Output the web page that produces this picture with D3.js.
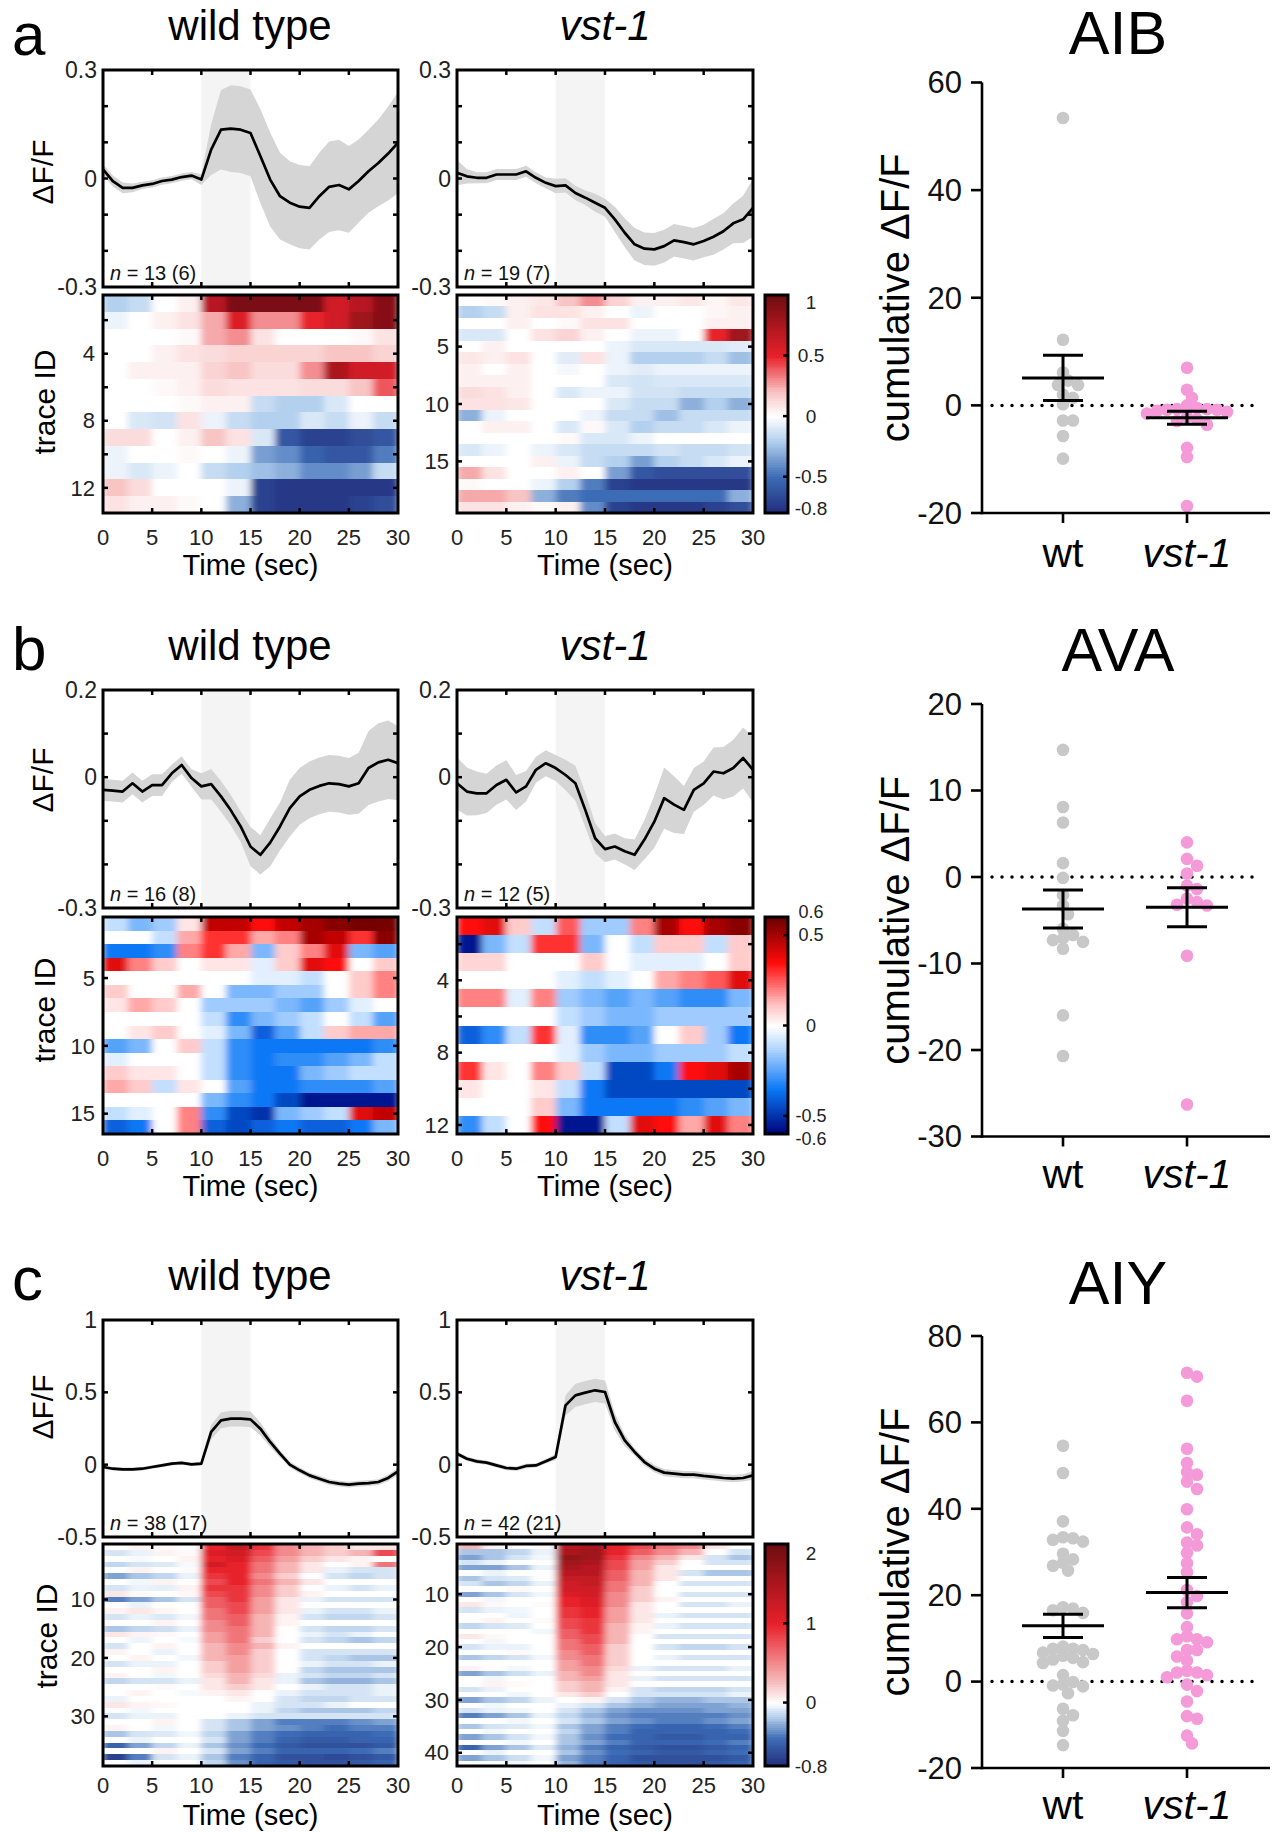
<!DOCTYPE html>
<html>
<head>
<meta charset="utf-8">
<script src="https://cdn.jsdelivr.net/npm/d3@7"></script>
<style>
body { margin: 0; background: #fff; }
svg { display: block; }
text { font-family: "Liberation Sans", Arial, sans-serif; }
</style>
</head>
<body>
<div id="fig"></div>
<script>
// ---- time axes ----
var secs = d3.range(0, 31);
var heatBins = [0, 2.5, 5, 7.5, 10, 12.5, 15, 17.5, 20, 22.5, 25, 27.5];
var timeTicks = [0, 5, 10, 15, 20, 25, 30];

// ---- mean traces (dF/F) and SEM, 1 s steps ----
var aWtMean = [0.025,-0.007,-0.026,-0.026,-0.019,-0.015,-0.007,-0.003,0.004,0.008,-0.003,0.080,0.135,0.138,0.135,0.126,0.062,-0.003,-0.049,-0.067,-0.078,-0.081,-0.049,-0.023,-0.018,-0.030,-0.007,0.020,0.043,0.069,0.099];
var aWtSem  = [0.015,0.015,0.015,0.012,0.01,0.01,0.01,0.01,0.01,0.01,0.015,0.07,0.11,0.12,0.12,0.12,0.13,0.13,0.12,0.115,0.115,0.115,0.12,0.125,0.125,0.12,0.115,0.115,0.12,0.13,0.14];
var aVstMean = [0.016,0.006,0.002,0.002,0.011,0.011,0.011,0.020,0.002,-0.012,-0.021,-0.019,-0.040,-0.053,-0.067,-0.081,-0.113,-0.150,-0.182,-0.194,-0.196,-0.187,-0.171,-0.176,-0.182,-0.173,-0.161,-0.146,-0.124,-0.113,-0.081];
var aVstSem  = [0.035,0.02,0.015,0.015,0.015,0.015,0.015,0.015,0.015,0.015,0.02,0.02,0.02,0.02,0.025,0.025,0.035,0.04,0.045,0.045,0.045,0.045,0.045,0.045,0.045,0.045,0.05,0.05,0.055,0.065,0.08];
var bWtMean = [-0.029,-0.031,-0.033,-0.014,-0.033,-0.018,-0.018,0.009,0.028,-0.002,-0.021,-0.016,-0.044,-0.076,-0.113,-0.159,-0.178,-0.150,-0.113,-0.071,-0.044,-0.029,-0.020,-0.014,-0.016,-0.021,-0.014,0.021,0.034,0.040,0.032];
var bWtSem  = [0.025,0.025,0.025,0.025,0.025,0.025,0.025,0.02,0.02,0.02,0.03,0.035,0.035,0.035,0.035,0.045,0.045,0.055,0.055,0.065,0.065,0.065,0.065,0.065,0.065,0.065,0.07,0.085,0.09,0.09,0.085];
var bVstMean = [-0.014,-0.033,-0.037,-0.037,-0.018,-0.006,-0.035,-0.021,0.017,0.032,0.021,0.005,-0.014,-0.075,-0.140,-0.165,-0.159,-0.170,-0.178,-0.143,-0.102,-0.048,-0.063,-0.075,-0.029,-0.014,0.013,0.009,0.021,0.044,0.017];
var bVstSem  = [0.06,0.055,0.05,0.045,0.045,0.045,0.04,0.035,0.03,0.03,0.03,0.035,0.04,0.04,0.035,0.03,0.03,0.03,0.035,0.045,0.06,0.07,0.065,0.055,0.05,0.05,0.055,0.06,0.065,0.07,0.075];
var cWtMean = [-0.016,-0.028,-0.032,-0.032,-0.028,-0.016,-0.005,0.007,0.012,0.002,0.007,0.226,0.306,0.318,0.318,0.313,0.249,0.157,0.076,0.000,-0.039,-0.074,-0.097,-0.120,-0.131,-0.138,-0.131,-0.127,-0.120,-0.092,-0.046];
var cWtSem  = [0.012,0.012,0.012,0.012,0.012,0.012,0.012,0.012,0.012,0.012,0.015,0.05,0.055,0.055,0.055,0.055,0.045,0.035,0.025,0.02,0.02,0.02,0.02,0.02,0.02,0.02,0.02,0.02,0.02,0.022,0.025];
var cVstMean = [0.076,0.041,0.023,0.014,-0.005,-0.023,-0.028,-0.009,-0.005,0.023,0.053,0.410,0.479,0.498,0.514,0.502,0.295,0.168,0.088,0.018,-0.028,-0.055,-0.062,-0.069,-0.069,-0.078,-0.085,-0.092,-0.097,-0.092,-0.074];
var cVstSem  = [0.015,0.015,0.015,0.015,0.015,0.015,0.015,0.015,0.015,0.015,0.02,0.07,0.08,0.08,0.08,0.08,0.06,0.04,0.025,0.025,0.025,0.025,0.025,0.025,0.025,0.025,0.025,0.025,0.025,0.025,0.03];

// ---- single traces (heatmaps), 2.5 s bins ----
var heatAWt = [
 [-0.2,-0.15,0,0.05,0.7,0.95,0.95,0.95,0.95,0.6,0.7,0.9],
 [-0.05,0,0.05,0.1,0.25,0.55,0.3,0.3,0.5,0.6,0.8,0.9],
 [0,0,0,0.02,0.25,0.3,0.1,0,0,0,0.02,0.1],
 [0,0,0.05,0.1,0.12,0.15,0.15,0.15,0.15,0.2,0.2,0.15],
 [0,0.05,0.05,0.05,0.15,0.2,0.12,0.12,0.3,0.75,0.6,0.6],
 [0,0,0.02,0.05,0.12,0.1,0.1,0.1,0.12,0.12,0.2,0.4],
 [0,0,0,0.02,0.05,0.05,-0.15,-0.2,-0.2,-0.1,0,0],
 [0,-0.1,-0.12,0.1,-0.05,-0.15,-0.2,-0.2,-0.1,-0.15,-0.05,-0.15],
 [0.12,0.12,0,0.05,0.2,0.1,-0.1,-0.6,-0.7,-0.7,-0.65,-0.6],
 [-0.05,0,0,0.02,0,-0.05,-0.35,-0.4,-0.55,-0.6,-0.6,-0.45],
 [-0.05,-0.1,-0.05,0,-0.15,-0.2,-0.25,-0.3,-0.4,-0.4,-0.35,-0.15],
 [0.2,0.12,0,0,0,-0.05,-0.7,-0.75,-0.75,-0.75,-0.75,-0.75],
 [0.1,0.05,0.05,0.02,0,-0.3,-0.7,-0.75,-0.75,-0.75,-0.7,-0.65]
];
var heatAVst = [
 [0,0.02,0.05,0.08,0.2,0.3,0.15,0.05,0.05,0.08,0.03,0.08],
 [-0.2,-0.15,0.05,0.1,0.1,0.05,0,-0.05,0,0,0.03,0.05],
 [0,0,0.05,0,0.02,0.1,0.1,0,0,0,0.05,0.05],
 [-0.1,-0.1,0,0.1,0.15,0.05,0,-0.05,-0.05,0,0.5,0.8],
 [0,0.05,0,0,0,0,-0.05,-0.1,-0.1,-0.1,-0.1,-0.08],
 [0.08,0.05,0.1,0,-0.08,0.1,-0.05,-0.2,-0.2,-0.2,-0.15,-0.25],
 [0.05,0,0.05,0,-0.03,0,-0.05,-0.08,-0.05,-0.05,-0.05,-0.05],
 [0.05,0.05,0.05,0,0,0,-0.1,-0.12,-0.1,-0.1,-0.1,-0.1],
 [0.12,0.1,0.05,0,-0.1,-0.05,-0.05,-0.12,-0.12,-0.15,-0.15,-0.15],
 [0.1,0.1,0.08,0,0,0,-0.1,-0.15,-0.15,-0.3,-0.2,-0.3],
 [-0.3,-0.05,0,0,0,-0.05,-0.15,-0.15,-0.25,-0.15,-0.15,-0.15],
 [0,0.05,0.05,0,-0.1,0.02,-0.1,-0.2,-0.15,-0.15,-0.1,-0.05],
 [0,0,0,0,0.02,-0.1,-0.1,-0.05,0,0,0,0],
 [-0.1,-0.05,0,-0.05,-0.1,-0.15,-0.15,-0.15,-0.12,-0.15,-0.15,-0.12],
 [0,0,0,0.05,-0.05,-0.15,-0.2,-0.35,-0.2,-0.15,-0.1,-0.05],
 [0.25,0.1,0,0,0.05,0,-0.35,-0.6,-0.65,-0.65,-0.65,-0.65],
 [0.02,0,0,-0.05,-0.2,-0.45,-0.7,-0.75,-0.75,-0.75,-0.75,-0.75],
 [0.25,0.25,0.2,-0.3,-0.45,-0.5,-0.5,-0.5,-0.5,-0.5,-0.5,-0.3],
 [0.1,0.1,0.05,0.02,0.05,-0.4,-0.7,-0.75,-0.75,-0.75,-0.7,-0.65]
];
var heatBWt = [
 [-0.1,-0.2,-0.15,0.05,0.45,0.45,0.35,0.45,0.5,0.55,0.58,0.58],
 [0,0,-0.1,0.15,0.3,0.3,0.15,0.2,0.5,0.45,0.3,0.55],
 [-0.35,-0.35,-0.3,0.2,0.3,0.15,-0.2,0.1,0.2,0.4,-0.2,-0.25],
 [0.4,0.2,0.1,0,0.05,0.05,-0.05,0.1,0.4,0.35,0,0.1],
 [0,0,0,0,0,0,-0.05,-0.05,-0.1,0,0.1,0.2],
 [0.1,0,0,0.15,0,-0.2,-0.2,-0.15,-0.15,0,0.1,0.2],
 [0.05,0.15,0.1,0,-0.15,-0.15,-0.15,-0.2,-0.25,-0.15,-0.05,0],
 [0,0,0,0,-0.1,-0.3,-0.2,-0.15,-0.1,0,-0.1,-0.25],
 [0,0.05,0.1,0,-0.05,-0.2,-0.4,-0.25,-0.1,0.1,0.15,0.15],
 [-0.25,-0.2,0,0.1,-0.1,-0.3,-0.35,-0.35,-0.35,-0.35,-0.35,-0.3],
 [-0.05,0,0,0,-0.1,-0.3,-0.35,-0.3,-0.3,-0.25,-0.2,-0.1],
 [0.1,0.05,0.05,0,-0.1,-0.3,-0.35,-0.35,-0.2,-0.15,-0.1,-0.1],
 [0.15,0.1,-0.1,0.05,0,-0.25,-0.35,-0.35,-0.3,-0.3,-0.3,-0.25],
 [0,0,0,0,-0.2,-0.3,-0.35,-0.45,-0.55,-0.55,-0.55,-0.55],
 [-0.1,-0.05,0,0.2,-0.3,-0.45,-0.5,-0.2,-0.15,-0.1,0.4,0.45],
 [-0.4,-0.35,0,0.2,-0.4,-0.45,-0.4,-0.35,-0.4,-0.4,-0.35,-0.2]
];
var heatBVst = [
 [0.35,0.4,0.1,-0.1,0.25,-0.15,-0.15,0.2,0.5,0.35,0.5,0.55],
 [-0.55,-0.2,-0.1,0.3,0.3,-0.2,0,-0.1,0.1,0.1,-0.1,0.1],
 [0.08,0.08,0,0,0,0.1,0,-0.05,-0.05,-0.05,0,0.1],
 [0,0,0,0,-0.05,-0.1,-0.05,0,0.15,0.2,0.25,0.4],
 [0.2,0.2,-0.05,0.2,-0.15,-0.2,-0.25,-0.2,-0.25,-0.3,-0.3,-0.2],
 [0,0,0,0,-0.1,-0.15,-0.2,-0.2,-0.15,-0.15,-0.15,-0.15],
 [-0.4,-0.3,-0.1,0.3,-0.05,-0.3,-0.3,-0.25,0,0.1,-0.15,-0.35],
 [0,0,0,0,-0.05,-0.15,-0.2,-0.2,-0.15,-0.15,-0.15,-0.1],
 [0.3,0.05,0,0.2,0.1,-0.1,-0.45,-0.45,-0.35,0.35,0.4,0.5],
 [0.05,0,0,0.05,-0.1,-0.35,-0.45,-0.45,-0.45,-0.45,-0.45,-0.45],
 [0,0,0,0.1,-0.2,-0.35,-0.35,-0.35,-0.35,-0.3,-0.25,-0.2],
 [-0.3,-0.1,0,0.35,-0.55,-0.55,-0.1,0.4,0.35,0.15,0.4,0.2]
];
var heatCWt = [
 [0,0.05,0.02,0,1.0,1.3,0.9,0.5,0.3,0.2,0.1,0.1],
 [-0.1,-0.05,0.05,0.02,1.1,1.2,0.8,0.5,0.3,0.2,0.3,0.8],
 [0,-0.02,0,0.05,1.0,1.1,0.7,0.4,0.2,0.1,0.05,0],
 [-0.15,-0.1,-0.08,-0.02,1.2,1.0,0.6,0.3,0.1,0,0.05,0.6],
 [0,0.05,0,0.02,1.0,1.0,0.6,0.3,0.1,-0.05,-0.1,-0.1],
 [-0.3,-0.2,-0.15,-0.05,0.9,1.0,0.5,0.2,0,-0.1,-0.15,-0.1],
 [0,-0.03,0.05,0,0.8,1.0,0.6,0.3,0.1,0,0,0],
 [-0.1,-0.05,-0.06,0.05,0.9,0.9,0.5,0.2,0,-0.05,-0.1,-0.05],
 [0.1,0.02,0,0.03,0.8,0.9,0.5,0.2,0.05,0,0,0],
 [-0.4,-0.3,-0.2,-0.1,0.7,0.9,0.4,0.1,-0.05,-0.1,-0.1,-0.1],
 [0,-0.05,0,0,0.7,0.8,0.4,0.1,0,0,0,0],
 [0.05,0.1,0.04,0,0.6,0.8,0.4,0.1,-0.05,-0.1,-0.1,-0.05],
 [-0.1,-0.05,-0.08,-0.03,0.6,0.7,0.3,0.05,-0.1,-0.15,-0.15,-0.1],
 [0,0,0.05,0,0.5,0.7,0.3,0.05,0,0,0,0],
 [-0.2,-0.15,-0.12,-0.05,0.5,0.6,0.3,0,-0.1,-0.15,-0.15,-0.1],
 [0.1,0.05,0.03,0,0.4,0.6,0.3,0,-0.05,-0.1,-0.05,0],
 [0,-0.04,0,-0.02,0.4,0.6,0.2,0,-0.1,-0.15,-0.2,-0.15],
 [-0.1,0,0.05,0,0.3,0.5,0.3,0.05,0,0,0,0],
 [0.05,0,-0.05,0,0.3,0.5,0.2,0,-0.1,-0.1,-0.1,-0.1],
 [0,0.05,0,-0.03,0.3,0.4,0.2,0,-0.1,-0.15,-0.2,-0.2],
 [-0.1,-0.05,-0.05,0,0.2,0.4,0.2,0,-0.05,-0.1,-0.1,-0.05],
 [0,0,0.05,0,0.2,0.4,0.2,0,-0.15,-0.2,-0.2,-0.2],
 [0.05,0,-0.03,0,0.15,0.3,0.15,-0.05,-0.1,-0.15,-0.15,-0.1],
 [-0.15,-0.1,-0.1,-0.05,0.1,0.3,0.1,-0.05,-0.2,-0.25,-0.25,-0.2],
 [0,0,0.02,0,0.1,0.2,0.1,0,-0.05,-0.1,-0.1,-0.05],
 [0,0.05,0,-0.02,0.05,0.1,0,-0.05,-0.1,-0.1,-0.1,-0.05],
 [-0.05,0,0,0,0,0.05,0,-0.1,-0.15,-0.15,-0.1,-0.1],
 [0.1,0.05,0.03,0,0,0,-0.05,-0.1,-0.1,-0.05,0,0],
 [0,-0.03,0,0,0,0,-0.05,-0.15,-0.2,-0.2,-0.2,-0.15],
 [-0.1,-0.05,-0.05,0,0,-0.05,-0.1,-0.1,-0.1,-0.1,-0.1,-0.1],
 [0,0,0.05,0,-0.1,-0.2,-0.3,-0.4,-0.4,-0.4,-0.35,-0.3],
 [0.05,0,-0.03,0,-0.1,-0.2,-0.3,-0.35,-0.4,-0.45,-0.4,-0.4],
 [-0.2,-0.1,-0.08,-0.03,-0.15,-0.3,-0.4,-0.45,-0.5,-0.5,-0.5,-0.45],
 [0,-0.05,0,0,-0.1,-0.3,-0.4,-0.5,-0.55,-0.55,-0.5,-0.5],
 [-0.5,-0.3,-0.15,-0.05,-0.2,-0.35,-0.45,-0.55,-0.6,-0.6,-0.6,-0.55],
 [0,0,0.05,0,-0.1,-0.3,-0.4,-0.5,-0.5,-0.5,-0.45,-0.4],
 [-0.7,-0.4,-0.1,-0.05,-0.2,-0.4,-0.5,-0.6,-0.6,-0.65,-0.6,-0.55],
 [0,-0.05,0,0,-0.15,-0.35,-0.5,-0.55,-0.6,-0.6,-0.55,-0.5]
];
var heatCVst = [
 [0.3,0.05,0,0.02,1.4,1.5,1.0,0.8,0.6,0.5,0.1,0],
 [-0.2,-0.2,-0.15,-0.05,1.5,1.6,1.0,0.7,0.5,0.3,0,-0.1],
 [-0.3,-0.2,-0.1,-0.03,1.7,1.6,0.9,0.5,0.3,0.1,-0.1,-0.2],
 [-0.1,-0.05,0,0,1.6,1.5,0.8,0.4,0.2,0,-0.1,-0.1],
 [-0.3,-0.3,-0.2,-0.05,1.5,1.4,0.8,0.4,0.1,0,0,0],
 [0,-0.05,0,0,1.4,1.4,0.7,0.3,0.1,-0.1,-0.2,-0.2],
 [-0.2,-0.1,-0.08,0,1.3,1.3,0.7,0.3,0.1,0,0,0],
 [-0.1,-0.2,-0.15,-0.05,1.2,1.3,0.6,0.3,0,-0.1,-0.1,-0.1],
 [0,0,0.03,0,1.2,1.2,0.6,0.2,0,0,0,0],
 [-0.3,-0.2,-0.1,-0.03,1.1,1.2,0.5,0.2,0,-0.1,-0.1,-0.1],
 [0,-0.03,0,0,1.0,1.1,0.5,0.2,0.05,0,0,0],
 [0.1,0.03,0,0.02,1.0,1.1,0.5,0.1,0,-0.1,-0.1,-0.05],
 [-0.1,-0.05,-0.03,0,0.9,1.0,0.4,0.1,0,0,0,0],
 [0,0,-0.04,0,0.9,1.0,0.4,0.1,-0.05,-0.1,-0.1,-0.1],
 [0,0.05,0,0.02,0.8,0.9,0.4,0.1,0,0,0,0],
 [-0.15,-0.1,-0.08,0,0.8,0.9,0.3,0.05,-0.05,-0.1,-0.1,-0.1],
 [0,0,0,-0.03,0.7,0.9,0.3,0.05,0,0,0,0],
 [0.1,0.03,0,0,0.7,0.8,0.3,0,-0.1,-0.1,-0.1,-0.1],
 [0,-0.03,0,0,0.6,0.8,0.3,0,0,0,0,0],
 [-0.1,-0.05,-0.05,0,0.6,0.7,0.2,0,-0.1,-0.15,-0.15,-0.1],
 [0,0,0.03,0,0.5,0.7,0.2,0,0,0,0,0],
 [-0.2,-0.15,-0.1,-0.03,0.5,0.6,0.2,0,-0.05,-0.1,-0.1,-0.1],
 [0,0,0,0,0.4,0.6,0.2,0,0,0,0,0],
 [0.05,0,-0.03,0,0.4,0.5,0.15,-0.05,-0.1,-0.1,-0.1,-0.05],
 [-0.3,-0.2,-0.12,-0.05,0.3,0.5,0.1,0,0,0,0,0],
 [0,-0.03,0,0,0.3,0.4,0.1,-0.05,-0.1,-0.1,-0.1,-0.1],
 [0,0.05,0.02,0,0.2,0.3,0.1,0,0,0,0,0],
 [-0.1,-0.05,0,0,0.2,0.3,0.05,-0.1,-0.15,-0.15,-0.15,-0.1],
 [0,0,-0.03,0,0.1,0.2,0,-0.1,-0.1,-0.1,-0.1,-0.05],
 [-0.3,-0.2,-0.15,-0.05,0,0.05,-0.1,-0.2,-0.25,-0.25,-0.2,-0.2],
 [0,-0.03,0,0,-0.05,-0.1,-0.2,-0.25,-0.3,-0.3,-0.3,-0.25],
 [-0.1,-0.05,-0.03,0,-0.1,-0.2,-0.3,-0.35,-0.35,-0.35,-0.3,-0.3],
 [-0.4,-0.3,-0.2,-0.05,-0.15,-0.25,-0.35,-0.4,-0.4,-0.4,-0.4,-0.35],
 [0,0,-0.03,0,-0.1,-0.2,-0.3,-0.35,-0.4,-0.4,-0.35,-0.3],
 [-0.2,-0.1,-0.08,-0.03,-0.2,-0.3,-0.4,-0.45,-0.5,-0.5,-0.45,-0.4],
 [0,-0.03,0,0,-0.15,-0.3,-0.4,-0.5,-0.5,-0.5,-0.5,-0.45],
 [-0.3,-0.2,-0.1,-0.03,-0.2,-0.35,-0.45,-0.5,-0.55,-0.55,-0.5,-0.5],
 [0,0,-0.03,0,-0.2,-0.3,-0.4,-0.5,-0.5,-0.5,-0.45,-0.4],
 [-0.5,-0.3,-0.2,-0.08,-0.25,-0.4,-0.5,-0.55,-0.6,-0.6,-0.55,-0.5],
 [0,-0.05,0,0,-0.2,-0.35,-0.45,-0.5,-0.55,-0.55,-0.5,-0.45],
 [-0.3,-0.2,-0.12,-0.03,-0.3,-0.4,-0.5,-0.6,-0.6,-0.6,-0.6,-0.55],
 [0,0,-0.03,0,-0.25,-0.4,-0.5,-0.55,-0.6,-0.6,-0.55,-0.5]
];

// ---- cumulative dF/F per animal ----
var groups = ["wt", "vst-1"];
var aibWt  = [53.4,12.2,4.6,3.8,6.1,3.8,1.4,2.0,0.2,-2.8,-2.8,-5.7,-9.9];
var aibVst = [7.0,2.9,1.4,0,-0.7,-0.7,-0.5,-0.8,-2.9,-3.6,-2.1,-7.9,-9.6,-18.7,-0.8,-1.0,-1.5,-1.2,-2.6];
var aibMean = [5.1, -2.3], aibSem = [4.2, 1.2];
var avaWt  = [14.7,8.1,6.3,1.6,-0.1,-2.1,-3.3,-4.3,-6.0,-7.1,-6.7,-7.3,-7.5,-8.3,-16.0,-20.7];
var avaVst = [4.0,2.1,1.3,0.4,-1.0,-1.4,-2.5,-2.9,-3.2,-3.3,-9.1,-26.3];
var avaMean = [-3.7, -3.5], avaSem = [2.2, 2.25];
var aiyWt  = [54.6,48.3,37.1,32.8,33.2,32.4,33.4,29.6,28.3,27.5,26.8,25.7,16.9,16.5,17.2,15.9,6.7,6.0,6.4,7.6,7.6,8.1,7.3,5.1,4.3,4.5,5.5,1.5,-0.1,-0.9,-0.7,-1.1,-2.7,-6.3,-7.8,-9.1,-11.4,-14.7];
var aiyVst = [70.6,71.5,65.0,53.9,50.6,48.5,47.9,46.3,44.6,39.9,35.7,34.1,32.2,31.5,29.8,27.4,25.3,21.2,18.4,19.8,15.8,12.6,10.5,9.8,9.1,9.8,7.3,7.3,5.8,4.9,2.5,2.1,1.5,2.1,1.0,-0.7,-2.2,-4.6,-8.0,-8.6,-12.5,-14.3];
var aiyMean = [12.9, 20.6], aiySem = [2.7, 3.5];

// ---- colour maps ----
var cmapA = d3.scaleLinear()
  .domain([-0.8, -0.5, -0.2, 0, 0.2, 0.5, 1])
  .range(["#222d7c", "#3d6cb6", "#b3d0ee", "#ffffff", "#f8c4c4", "#e8202a", "#6e0d10"])
  .clamp(true);
var cmapB = d3.scaleLinear()
  .domain([-0.6, -0.35, -0.12, 0, 0.12, 0.35, 0.6])
  .range(["#000078", "#0a78f5", "#b6d8ff", "#ffffff", "#ffc0c0", "#ff0a0a", "#6a0000"])
  .clamp(true);
var cmapC = d3.scaleLinear()
  .domain([-0.8, -0.45, -0.15, 0, 0.3, 1, 2])
  .range(["#222d7c", "#3d6cb6", "#c0d7ef", "#ffffff", "#f6b4b4", "#e8202a", "#6e0d10"])
  .clamp(true);

var svg = d3.select("#fig").append("svg")
  .attr("width", 1278).attr("height", 1832);
svg.append("rect").attr("width", 1278).attr("height", 1832).attr("fill", "#fff");

// horizontal smoothing of heatmap cells (rows stay sharp)
var defs = svg.append("defs");
defs.append("filter").attr("id", "hsmooth")
  .attr("x", 0).attr("y", 0).attr("width", 1).attr("height", 1)
  .append("feGaussianBlur").attr("stdDeviation", "3.5 0").attr("edgeMode", "duplicate");

function label(x, y, s, size, opt) {
  opt = opt || {};
  var t = svg.append("text")
    .attr("x", x).attr("y", y)
    .attr("font-size", size)
    .attr("text-anchor", opt.anchor || "middle")
    .attr("fill", opt.color || "#000")
    .text(s);
  if (opt.dy) t.attr("dy", opt.dy);
  if (opt.italic) t.attr("font-style", "italic");
  if (opt.rotate) t.attr("transform", "rotate(-90," + x + "," + y + ")");
  return t;
}

// box frame with inward ticks
function frame(x, y, xTicks, yTicks) {
  var g = svg.append("g");
  var x0 = x.range()[0], x1 = x.range()[1];
  var y0 = y.range()[1], y1 = y.range()[0];
  var tl = 5;
  xTicks.forEach(function(t) {
    g.append("line").attr("x1", x(t)).attr("x2", x(t)).attr("y1", y1).attr("y2", y1 - tl);
    g.append("line").attr("x1", x(t)).attr("x2", x(t)).attr("y1", y0).attr("y2", y0 + tl);
  });
  yTicks.forEach(function(t) {
    g.append("line").attr("x1", x0).attr("x2", x0 + tl).attr("y1", y(t)).attr("y2", y(t));
    g.append("line").attr("x1", x1).attr("x2", x1 - tl).attr("y1", y(t)).attr("y2", y(t));
  });
  g.selectAll("line").attr("stroke", "#000").attr("stroke-width", 2.5);
  g.append("rect").attr("x", x0).attr("y", y0).attr("width", x1 - x0).attr("height", y1 - y0)
    .attr("fill", "none").attr("stroke", "#000").attr("stroke-width", 3);
}

function drawTrace(p, mean, sem, domain, yTicks, yLabels, nTxt) {
  var x = d3.scaleLinear().domain([0, 30]).range([p.x0, p.x1]);
  var y = d3.scaleLinear().domain(domain).range([p.y1, p.y0]);
  var clipId = "clip" + Math.round(p.x0) + "_" + Math.round(p.y0);
  svg.append("clipPath").attr("id", clipId).append("rect")
    .attr("x", p.x0).attr("y", p.y0).attr("width", p.x1 - p.x0).attr("height", p.y1 - p.y0);
  var g = svg.append("g").attr("clip-path", "url(#" + clipId + ")");
  g.append("rect").attr("x", x(10)).attr("y", p.y0).attr("width", x(15) - x(10))
    .attr("height", p.y1 - p.y0).attr("fill", "#f4f4f4");
  var pts = secs.map(function(t, i) { return {t: t, m: mean[i], s: sem[i]}; });
  g.append("path").datum(pts).attr("fill", "#d5d5d5")
    .attr("d", d3.area().x(function(d) { return x(d.t); })
      .y0(function(d) { return y(d.m - d.s); })
      .y1(function(d) { return y(d.m + d.s); }));
  g.append("path").datum(pts).attr("fill", "none").attr("stroke", "#000")
    .attr("stroke-width", 2.7).attr("stroke-linejoin", "round")
    .attr("d", d3.line().x(function(d) { return x(d.t); }).y(function(d) { return y(d.m); }));
  frame(x, y, [5, 10, 15, 20, 25], yTicks);
  yLabels.forEach(function(v) {
    label(p.x0 - 6, y(v), String(v), 23, {anchor: "end", dy: "0.35em", color: "#222"});
  });
  var t = svg.append("text").attr("x", p.x0 + 7).attr("y", p.y1 - 7)
    .attr("font-size", 20).attr("fill", "#111");
  t.append("tspan").attr("font-style", "italic").text("n");
  t.append("tspan").text(" = " + nTxt);
}

function drawHeat(p, rows, cmap, yTicks, yLabels) {
  var x = d3.scaleLinear().domain([0, 30]).range([p.x0, p.x1]);
  var y = d3.scaleLinear().domain([rows.length + 0.5, 0.5]).range([p.y1, p.y0]);
  var g = svg.append("g").attr("filter", "url(#hsmooth)");
  rows.forEach(function(row, r) {
    row.forEach(function(v, b) {
      g.append("rect")
        .attr("shape-rendering", "crispEdges")
        .attr("x", x(heatBins[b]))
        .attr("y", y(r + 0.5))
        .attr("width", x(heatBins[b] + 2.5) - x(heatBins[b]) + 0.6)
        .attr("height", y(r + 1.5) - y(r + 0.5) + 0.6)
        .attr("fill", cmap(v));
    });
  });
  frame(x, y, [5, 10, 15, 20, 25], yTicks);
  yLabels.forEach(function(v) {
    label(p.x0 - 8, y(v), String(v), 22, {anchor: "end", dy: "0.35em", color: "#222"});
  });
  timeTicks.forEach(function(t) {
    label(x(t), p.y1 + (p.tickGap || 32), String(t), 22, {color: "#222"});
  });
  label((p.x0 + p.x1) / 2, p.y1 + (p.titleGap || 62), "Time (sec)", 29);
}

function drawColorbar(p, cmap, dom, ticks, labels) {
  var y = d3.scaleLinear().domain(dom).range([p.y1, p.y0]);
  var n = 120, step = (dom[1] - dom[0]) / n;
  var g = svg.append("g").attr("shape-rendering", "crispEdges");
  d3.range(n).forEach(function(i) {
    var lo = dom[0] + i * step, hi = lo + step;
    g.append("rect").attr("x", p.x0).attr("width", p.x1 - p.x0)
      .attr("y", y(hi)).attr("height", y(lo) - y(hi) + 0.8).attr("fill", cmap((lo + hi) / 2));
  });
  ticks.forEach(function(v) {
    svg.append("line").attr("x1", p.x1).attr("x2", p.x1 - 5).attr("y1", y(v)).attr("y2", y(v))
      .attr("stroke", "#000").attr("stroke-width", 2.5);
  });
  svg.append("rect").attr("x", p.x0).attr("y", p.y0).attr("width", p.x1 - p.x0).attr("height", p.y1 - p.y0)
    .attr("fill", "none").attr("stroke", "#000").attr("stroke-width", 3);
  labels.forEach(function(v, i) {
    var yy = y(v);
    if (i === 0) yy += p.topShift;
    if (i === labels.length - 1) yy += p.botShift;
    label(p.x1 + 23, yy, String(v), p.fs || 19, {dy: "0.35em", color: "#222"});
  });
}

// simple beeswarm: offsets in 5 px steps, minimum distance 9 px
function swarm(vals, y) {
  var pts = vals.map(function(v) { return {v: v, py: y(v)}; })
    .sort(function(a, b) { return a.py - b.py; });
  var placed = [];
  pts.forEach(function(d) {
    for (var k = 0; k < 40; k++) {
      var cands = k === 0 ? [0] : [k * 5, -k * 5];
      var ok = null;
      for (var c = 0; c < cands.length; c++) {
        var dx = cands[c];
        var hit = placed.some(function(q) { return Math.hypot(q.dx - dx, q.py - d.py) < 9; });
        if (!hit) { ok = dx; break; }
      }
      if (ok !== null) { d.dx = ok; break; }
    }
    placed.push(d);
  });
  return pts;
}

function drawScatter(p, title, dom, ticks, wt, vst, mean, sem) {
  var y = d3.scaleLinear().domain(dom).range([p.y1, p.y0]);
  var x = d3.scalePoint().domain(groups).range([1063, 1187]);
  var ax = 982, axEnd = 1270;
  label(1118, p.titleY, title, 61);
  label(895, (p.y0 + p.y1) / 2, "cumulative \u0394F/F", 40, {rotate: true, dy: "0.35em"});
  var g = svg.append("g");
  g.append("line").attr("x1", 992).attr("x2", 1262).attr("y1", y(0)).attr("y2", y(0))
    .attr("stroke", "#000").attr("stroke-width", 3.5).attr("stroke-linecap", "round")
    .attr("stroke-dasharray", "0 10");
  [[wt, "#c8c8c8", groups[0]], [vst, "#f59ad8", groups[1]]].forEach(function(s) {
    swarm(s[0], y).forEach(function(d) {
      g.append("circle").attr("cx", x(s[2]) + d.dx).attr("cy", d.py).attr("r", 6.3).attr("fill", s[1]);
    });
  });
  groups.forEach(function(k, i) {
    var cx = x(k);
    var ln = function(x1, x2, y1, y2) {
      g.append("line").attr("x1", x1).attr("x2", x2).attr("y1", y1).attr("y2", y2)
        .attr("stroke", "#000").attr("stroke-width", 3);
    };
    ln(cx - 41, cx + 41, y(mean[i]), y(mean[i]));
    ln(cx, cx, y(mean[i] - sem[i]), y(mean[i] + sem[i]));
    ln(cx - 20, cx + 20, y(mean[i] + sem[i]), y(mean[i] + sem[i]));
    ln(cx - 20, cx + 20, y(mean[i] - sem[i]), y(mean[i] - sem[i]));
  });
  var a = svg.append("g").attr("stroke", "#000").attr("stroke-width", 2.6);
  a.append("line").attr("x1", ax).attr("x2", ax).attr("y1", y(dom[1])).attr("y2", y(dom[0]) + 1.3);
  a.append("line").attr("x1", ax).attr("x2", axEnd).attr("y1", y(dom[0])).attr("y2", y(dom[0]));
  ticks.forEach(function(v) {
    a.append("line").attr("x1", ax - 11).attr("x2", ax).attr("y1", y(v)).attr("y2", y(v));
    label(962, y(v), String(v), 31, {anchor: "end", dy: "0.35em", color: "#111"});
  });
  groups.forEach(function(k) {
    a.append("line").attr("x1", x(k)).attr("x2", x(k)).attr("y1", y(dom[0])).attr("y2", y(dom[0]) + 10);
  });
  label(x(groups[0]), p.labelY, "wt", 41);
  label(x(groups[1]), p.labelY, "vst-1", 41, {italic: true});
}

// ---- panel a ----
label(12, 55, "a", 60, {anchor: "start"});
label(250, 40, "wild type", 42);
label(605, 40, "vst-1", 42, {italic: true});
label(42, 172, "\u0394F/F", 30, {rotate: true, dy: "0.35em"});
label(44, 402, "trace ID", 30, {rotate: true, dy: "0.35em"});
drawTrace({x0: 103, x1: 398, y0: 70, y1: 287}, aWtMean, aWtSem, [-0.3, 0.3],
  [-0.2, -0.1, 0, 0.1, 0.2], [-0.3, 0, 0.3], "13 (6)");
drawTrace({x0: 457, x1: 753, y0: 70, y1: 287}, aVstMean, aVstSem, [-0.3, 0.3],
  [-0.2, -0.1, 0, 0.1, 0.2], [-0.3, 0, 0.3], "19 (7)");
drawHeat({x0: 103, x1: 398, y0: 295, y1: 513}, heatAWt, cmapA, [2, 4, 6, 8, 10, 12], [4, 8, 12]);
drawHeat({x0: 457, x1: 753, y0: 295, y1: 513}, heatAVst, cmapA, [5, 10, 15], [5, 10, 15]);
drawColorbar({x0: 765, x1: 788, y0: 295, y1: 513, topShift: 7, botShift: -5}, cmapA, [-0.8, 1],
  [-0.5, 0, 0.5], [1, 0.5, 0, -0.5, -0.8]);
drawScatter({y0: 82.5, y1: 513, titleY: 54, labelY: 567}, "AIB", [-20, 60], [-20, 0, 20, 40, 60],
  aibWt, aibVst, aibMean, aibSem);

// ---- panel b ----
label(12, 670, "b", 62, {anchor: "start"});
label(250, 660, "wild type", 42);
label(605, 660, "vst-1", 42, {italic: true});
label(42, 780, "\u0394F/F", 30, {rotate: true, dy: "0.35em"});
label(44, 1010, "trace ID", 30, {rotate: true, dy: "0.35em"});
drawTrace({x0: 103, x1: 398, y0: 690, y1: 908}, bWtMean, bWtSem, [-0.3, 0.2],
  [-0.2, -0.1, 0, 0.1], [-0.3, 0, 0.2], "16 (8)");
drawTrace({x0: 457, x1: 753, y0: 690, y1: 908}, bVstMean, bVstSem, [-0.3, 0.2],
  [-0.2, -0.1, 0, 0.1], [-0.3, 0, 0.2], "12 (5)");
drawHeat({x0: 103, x1: 398, y0: 917, y1: 1134}, heatBWt, cmapB, [5, 10, 15], [5, 10, 15]);
drawHeat({x0: 457, x1: 753, y0: 917, y1: 1134}, heatBVst, cmapB, [2, 4, 6, 8, 10, 12], [4, 8, 12]);
drawColorbar({x0: 765, x1: 788, y0: 917, y1: 1134, topShift: -5, botShift: 5, fs: 18}, cmapB, [-0.6, 0.6],
  [-0.5, 0, 0.5], [0.6, 0.5, 0, -0.5, -0.6]);
drawScatter({y0: 704, y1: 1136.5, titleY: 671, labelY: 1188}, "AVA", [-30, 20], [-30, -20, -10, 0, 10, 20],
  avaWt, avaVst, avaMean, avaSem);

// ---- panel c ----
label(12, 1300, "c", 62, {anchor: "start"});
label(250, 1290, "wild type", 42);
label(605, 1290, "vst-1", 42, {italic: true});
label(42, 1407, "\u0394F/F", 30, {rotate: true, dy: "0.35em"});
label(46, 1636, "trace ID", 30, {rotate: true, dy: "0.35em"});
drawTrace({x0: 103, x1: 398, y0: 1320, y1: 1537}, cWtMean, cWtSem, [-0.5, 1],
  [0, 0.5], [-0.5, 0, 0.5, 1], "38 (17)");
drawTrace({x0: 457, x1: 753, y0: 1320, y1: 1537}, cVstMean, cVstSem, [-0.5, 1],
  [0, 0.5], [-0.5, 0, 0.5, 1], "42 (21)");
drawHeat({x0: 103, x1: 398, y0: 1544, y1: 1766, tickGap: 27, titleGap: 59}, heatCWt, cmapC, [10, 20, 30], [10, 20, 30]);
drawHeat({x0: 457, x1: 753, y0: 1544, y1: 1766, tickGap: 27, titleGap: 59}, heatCVst, cmapC, [10, 20, 30, 40], [10, 20, 30, 40]);
drawColorbar({x0: 765, x1: 788, y0: 1544, y1: 1766, topShift: 9, botShift: 0}, cmapC, [-0.8, 2],
  [0, 1], [2, 1, 0, -0.8]);
drawScatter({y0: 1336, y1: 1768, titleY: 1304, labelY: 1819}, "AIY", [-20, 80], [-20, 0, 20, 40, 60, 80],
  aiyWt, aiyVst, aiyMean, aiySem);
</script>
</body>
</html>
